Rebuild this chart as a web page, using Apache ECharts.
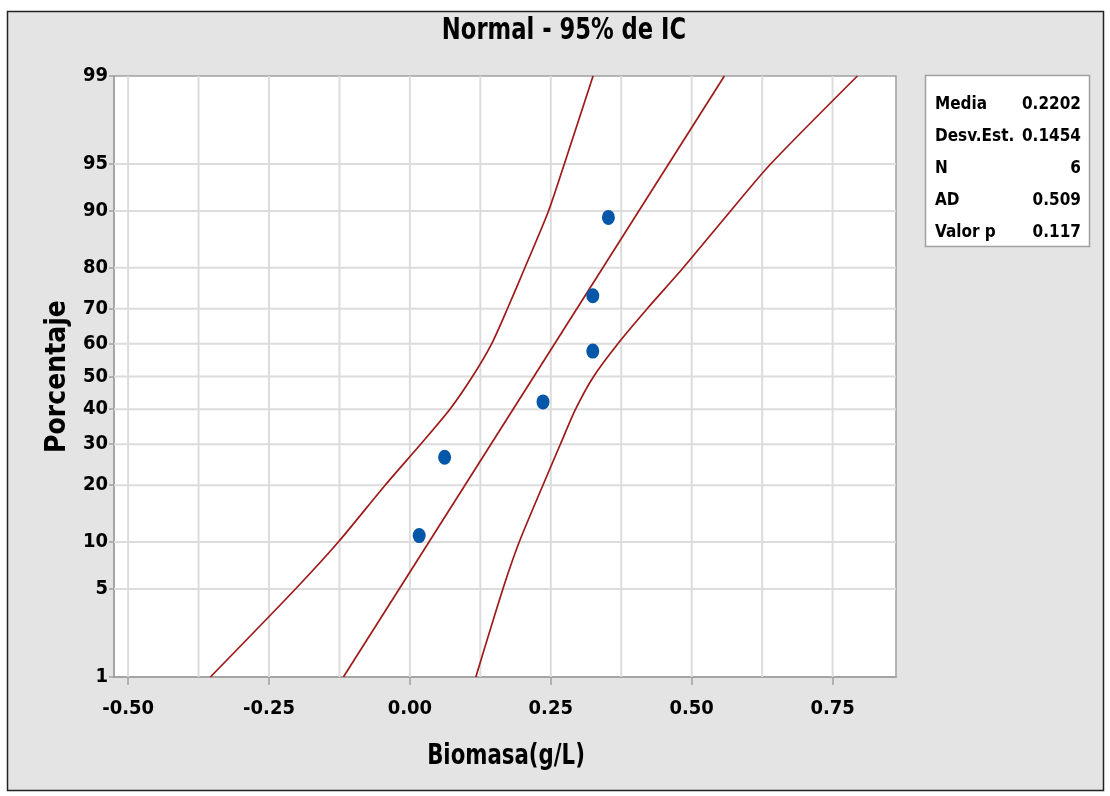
<!DOCTYPE html>
<html>
<head>
<meta charset="utf-8">
<script src="https://cdn.jsdelivr.net/npm/echarts@6/dist/echarts.min.js"></script>
<style>
html,body{margin:0;padding:0;background:#ffffff;}
#c{width:1110px;height:796px;}
</style>
</head>
<body>
<div id="c"></div>
<script>
// ---- data ----
const titleText = 'Normal - 95% de IC';
const xName = 'Biomasa(g/L)';
const yName = 'Porcentaje';
const biomasa = [0.0165, 0.0616, 0.2362, 0.3245, 0.3245, 0.3522];
const porcentaje = [10.9, 26.6, 42.2, 57.8, 73.4, 89.1];
const fitPct = [1, 99];
const fitX = [-0.118, 0.558];
const ciPct = [1, 5, 10, 20, 30, 40, 50, 60, 70, 80, 90, 95, 99];
const ciLower = [-0.354, -0.203, -0.127, -0.044, 0.019, 0.071, 0.111, 0.145, 0.173, 0.204, 0.246, 0.274, 0.325];
const ciUpper = [0.117, 0.165, 0.194, 0.236, 0.267, 0.294, 0.326, 0.369, 0.421, 0.485, 0.569, 0.640, 0.794];
const yTickPct = [1, 5, 10, 20, 30, 40, 50, 60, 70, 80, 90, 95, 99];
const xTickLabels = [-0.5, -0.25, 0, 0.25, 0.5, 0.75];
const xGridVals = [-0.5, -0.375, -0.25, -0.125, 0, 0.125, 0.25, 0.375, 0.5, 0.625, 0.75];
const statNames = ['Media', 'Desv.Est.', 'N', 'AD', 'Valor p'];
const statValues = ['0.2202', '0.1454', '6', '0.509', '0.117'];

// ---- probability (probit) scale transform ----
function probit(pct) {
  const p = pct / 100;
  const a = [-3.969683028665376e+01, 2.209460984245205e+02, -2.759285104469687e+02, 1.383577518672690e+02, -3.066479806614716e+01, 2.506628277459239e+00];
  const b = [-5.447609879822406e+01, 1.615858368580409e+02, -1.556989798598866e+02, 6.680131188771972e+01, -1.328068155288572e+01];
  const c = [-7.784894002430293e-03, -3.223964580411365e-01, -2.400758277161838e+00, -2.549732539343734e+00, 4.374664141464968e+00, 2.938163982698783e+00];
  const d = [7.784695709041462e-03, 3.224671290700398e-01, 2.445134137142996e+00, 3.754408661907416e+00];
  const pl = 0.02425, ph = 1 - pl;
  let q, r;
  if (p < pl) {
    q = Math.sqrt(-2 * Math.log(p));
    return (((((c[0]*q+c[1])*q+c[2])*q+c[3])*q+c[4])*q+c[5]) / ((((d[0]*q+d[1])*q+d[2])*q+d[3])*q+1);
  } else if (p <= ph) {
    q = p - 0.5; r = q * q;
    return (((((a[0]*r+a[1])*r+a[2])*r+a[3])*r+a[4])*r+a[5])*q / (((((b[0]*r+b[1])*r+b[2])*r+b[3])*r+b[4])*r+1);
  } else {
    q = Math.sqrt(-2 * Math.log(1 - p));
    return -(((((c[0]*q+c[1])*q+c[2])*q+c[3])*q+c[4])*q+c[5]) / ((((d[0]*q+d[1])*q+d[2])*q+d[3])*q+1);
  }
}
const yTickZ = yTickPct.map(probit);
const yMin = probit(1), yMax = probit(99);
const xMin = -0.525, xMax = 0.8625;
function pctLabel(v) {
  let best = 0, bd = 1e9;
  yTickZ.forEach((z, i) => { const dd = Math.abs(z - v); if (dd < bd) { bd = dd; best = i; } });
  return String(yTickPct[best]);
}

const FONT = '"Liberation Sans Narrow", "DejaVu Sans Condensed", sans-serif';
const RED = '#9e1a1a';
const GRIDC = '#dcdcdc';

const gridSeries = xGridVals.map(v => ({
  type: 'line', silent: true, z: 1, symbol: 'none',
  lineStyle: {color: GRIDC, width: 2}, emphasis: {disabled: true},
  data: [[v, yMin], [v, yMax]]
})).concat(yTickZ.slice(1, -1).map(z => ({
  type: 'line', silent: true, z: 1, symbol: 'none',
  lineStyle: {color: GRIDC, width: 2}, emphasis: {disabled: true},
  data: [[xMin, z], [xMax, z]]
})));

const chart = echarts.init(document.getElementById('c'), null, {renderer: 'canvas'});
const option = {
  backgroundColor: '#ffffff',
  animation: false,
  graphic: [
    {type: 'rect', z: -10, silent: true, shape: {x: 7.5, y: 11.5, width: 1096, height: 779},
     style: {fill: '#e4e4e4', stroke: '#222222', lineWidth: 1.5}},
    {type: 'rect', z: 10, silent: true, shape: {x: 925.5, y: 75.5, width: 164, height: 171},
     style: {fill: '#ffffff', stroke: '#a0a0a0', lineWidth: 1.5}},
    {type: 'text', z: 11, silent: true, x: 564, y: 31, scaleX: 0.84,
     style: {text: titleText, font: 'bold 30px ' + FONT, fill: '#000000', align: 'center', verticalAlign: 'middle'}},
    {type: 'text', z: 11, silent: true, x: 506, y: 757, scaleX: 0.845,
     style: {text: xName, font: 'bold 28px ' + FONT, fill: '#000000', align: 'center', verticalAlign: 'middle'}},
  ].concat(statNames.map((n, i) => ({
    type: 'text', z: 11, silent: true, left: 935, top: 96 + i * 32,
    style: {text: n, font: 'bold 17px ' + FONT, fill: '#000000'}
  }))).concat(statValues.map((v, i) => ({
    type: 'text', z: 11, silent: true, right: 1110 - 1081, top: 96 + i * 32,
    style: {text: v, font: 'bold 17px ' + FONT, fill: '#000000', align: 'right'}
  }))),
  grid: {
    left: 114, right: 214, top: 76, bottom: 119,
    show: true, backgroundColor: '#ffffff', borderColor: '#a0a0a0', borderWidth: 1.5
  },
  xAxis: {
    type: 'value', min: xMin, max: xMax,
    axisLine: {show: true, onZero: false, lineStyle: {color: '#a0a0a0', width: 1.5}},
    axisTick: {show: true, customValues: xTickLabels, length: 8, lineStyle: {color: '#a0a0a0', width: 1.5}},
    axisLabel: {customValues: xTickLabels, margin: 22, formatter: v => v.toFixed(2),
      fontFamily: FONT, fontWeight: 'bold', fontSize: 20, color: '#000000'},
    splitLine: {show: false}
  },
  yAxis: {
    type: 'value', min: yMin, max: yMax,
    name: yName, nameLocation: 'middle', nameGap: 31, nameRotate: 90,
    nameTextStyle: {fontFamily: FONT, fontSize: 28, fontWeight: 'bold', color: '#000000'},
    axisLine: {show: true, onZero: false, lineStyle: {color: '#a0a0a0', width: 1.5}},
    axisTick: {show: true, customValues: yTickZ, length: 5, lineStyle: {color: '#a0a0a0', width: 1.5}},
    axisLabel: {customValues: yTickZ, margin: 6, formatter: pctLabel,
      fontFamily: FONT, fontWeight: 'bold', fontSize: 20, color: '#000000'},
    splitLine: {show: false}
  },
  series: gridSeries.concat([
    {
      type: 'line', name: 'lower', z: 3, symbol: 'none', silent: true, smooth: 0.25,
      lineStyle: {color: RED, width: 1.7},
      data: ciLower.map((x, i) => [x, probit(ciPct[i])])
    },
    {
      type: 'line', name: 'upper', z: 3, symbol: 'none', silent: true, smooth: 0.25,
      lineStyle: {color: RED, width: 1.7},
      data: ciUpper.map((x, i) => [x, probit(ciPct[i])])
    },
    {
      type: 'line', name: 'fit', z: 3, symbol: 'none', silent: true,
      lineStyle: {color: RED, width: 1.7},
      data: fitX.map((x, i) => [x, probit(fitPct[i])])
    },
    {
      type: 'scatter', name: 'data', z: 5, symbol: 'circle', symbolSize: [13, 15],
      itemStyle: {color: '#0457a8', opacity: 1},
      data: biomasa.map((x, i) => [x, probit(porcentaje[i])])
    }
  ])
};
chart.setOption(option);
</script>
</body>
</html>
